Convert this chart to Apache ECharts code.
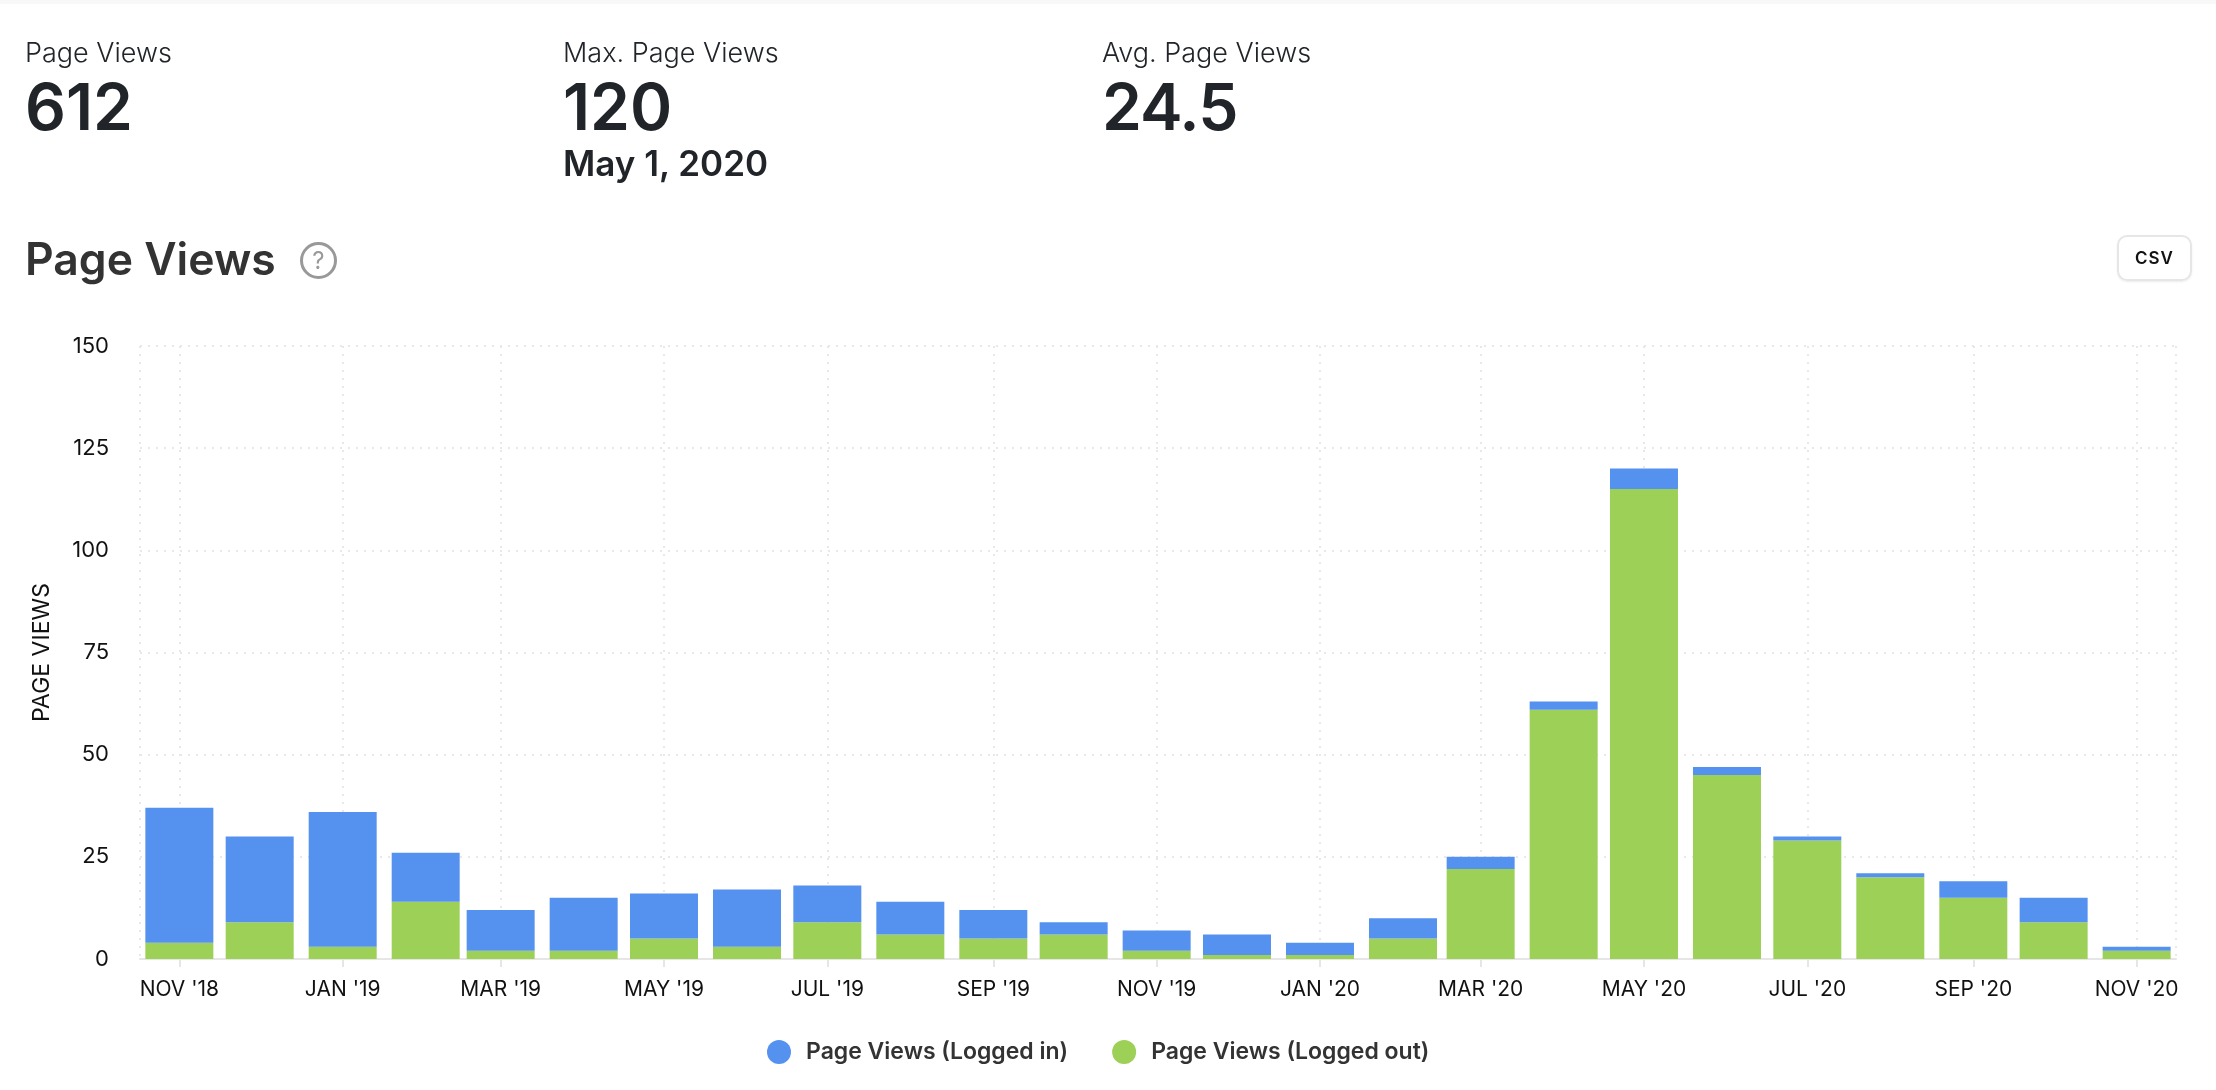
<!DOCTYPE html>
<html>
<head>
<meta charset="utf-8">
<title>Page Views</title>
<script src="https://cdn.jsdelivr.net/npm/echarts@6/dist/echarts.min.js"></script>
<style>
html,body{margin:0;padding:0;background:#fff;font-family:Inter,sans-serif;color:#212529;}
#strip{position:absolute;left:0;top:0;width:2216px;height:4px;background:#f8f8f8;}
#main{position:absolute;left:0;top:0;width:2216px;height:1090px;}
.t{position:absolute;white-space:nowrap;line-height:1;}
.lab{font-size:27px;font-weight:300;top:39px;}
.num{font-size:64px;font-weight:600;top:75px;}
#maxdate{left:563px;top:146px;font-size:35px;font-weight:600;}
#head{left:25px;top:237px;font-size:44.5px;font-weight:600;color:#333;}
#help{position:absolute;left:300px;top:242px;width:31px;height:31px;border:3px solid #999;border-radius:50%;color:#999;font-size:24px;line-height:31px;text-align:center;}
#csv{position:absolute;left:2117px;top:235px;width:71px;height:42px;border:2px solid #e6e6e6;border-radius:10px;box-shadow:0 1px 2px rgba(0,0,0,.08);font-size:17px;font-weight:600;letter-spacing:1px;line-height:42px;text-align:center;color:#111;}
</style>
</head>
<body>
<div id="strip"></div>
<div id="main"></div>
<div class="t lab" style="left:25px">Page Views</div>
<div class="t num" style="left:25px">612</div>
<div class="t lab" style="left:563px">Max. Page Views</div>
<div class="t num" style="left:563px">120</div>
<div class="t" id="maxdate">May 1, 2020</div>
<div class="t lab" style="left:1102px">Avg. Page Views</div>
<div class="t num" style="left:1102px;letter-spacing:-1px">24.5</div>
<div class="t" id="head">Page Views</div>
<div id="help">?</div>
<div id="csv">CSV</div>
<script>
var months=['2018-11-01','2018-12-01','2019-01-01','2019-02-01','2019-03-01','2019-04-01','2019-05-01','2019-06-01','2019-07-01','2019-08-01','2019-09-01','2019-10-01','2019-11-01','2019-12-01','2020-01-01','2020-02-01','2020-03-01','2020-04-01','2020-05-01','2020-06-01','2020-07-01','2020-08-01','2020-09-01','2020-10-01','2020-11-01'];
var loggedIn=[33,21,33,12,10,13,11,14,9,8,7,3,5,5,3,5,3,2,5,2,1,1,4,6,1];
var loggedOut=[4,9,3,14,2,2,5,3,9,6,5,6,2,1,1,5,22,61,115,45,29,20,15,9,2];
var tickDates=['2018-11-01','2019-01-01','2019-03-01','2019-05-01','2019-07-01','2019-09-01','2019-11-01','2020-01-01','2020-03-01','2020-05-01','2020-07-01','2020-09-01','2020-11-01'];
var tickLabels=["NOV '18","JAN '19","MAR '19","MAY '19","JUL '19","SEP '19","NOV '19","JAN '20","MAR '20","MAY '20","JUL '20","SEP '20","NOV '20"];

function toTime(s){
    var p=s.split('-');
    return new Date(+p[0],p[1]-1,+p[2]).getTime();
}
function pairs(vals){
    return months.map(function(m,i){return [toTime(m),vals[i]];});
}
var tickTimes=tickDates.map(toTime);

var chart=echarts.init(document.getElementById('main'));
var fontFamily='Inter';
chart.setOption({
    animation:false,
    textStyle:{fontFamily:fontFamily},
    color:['#9dd057','#5592f0'],
    grid:{left:140,right:40,top:346,bottom:131},
    legend:{
        data:['Page Views (Logged in)','Page Views (Logged out)'],
        left:762,top:1035,
        icon:'circle',itemWidth:24,itemHeight:24,itemGap:44,
        textStyle:{fontFamily:fontFamily,fontSize:23,fontWeight:600,color:'#333',padding:[0,0,0,10]}
    },
    xAxis:{
        type:'time',
        // bars push the extent out by about half a bar each side
        min:toTime('2018-10-30'),
        max:toTime('2020-11-03'),
        splitNumber:12, // gives a tick every second month
        axisLine:{lineStyle:{color:'#e6e6e6',width:2}},
        axisTick:{show:true,length:8,lineStyle:{color:'#e6e6e6',width:2}},
        axisLabel:{
            margin:20,fontSize:21,color:'#111',hideOverlap:false,
            formatter:function(v){
                var i=tickTimes.indexOf(+v);
                return i<0?'':tickLabels[i];
            }
        },
        splitLine:{show:true,lineStyle:{color:'#e8e8e8',width:2,type:[2,6]}}
    },
    yAxis:{
        type:'value',
        min:0,max:150,interval:25,
        name:'PAGE VIEWS',nameLocation:'middle',nameGap:86,
        nameTextStyle:{fontSize:23,color:'#111'},
        axisLine:{show:false},axisTick:{show:false},
        axisLabel:{margin:31,fontSize:22,color:'#111'},
        splitLine:{show:true,lineStyle:{color:'#e8e8e8',width:2,type:[2,6]}}
    },
    series:[
        {name:'Page Views (Logged out)',type:'bar',stack:'views',barWidth:68,data:pairs(loggedOut)},
        {name:'Page Views (Logged in)',type:'bar',stack:'views',barWidth:68,data:pairs(loggedIn)}
    ]
});
</script>
</body>
</html>
